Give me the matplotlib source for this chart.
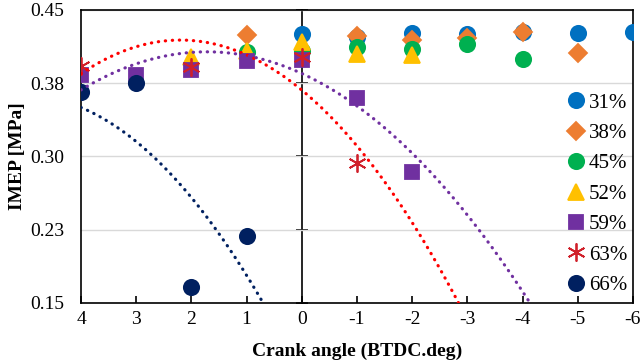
import numpy as np
import matplotlib
matplotlib.use("Agg")
import matplotlib.pyplot as plt

plt.rcParams['font.family'] = ['Liberation Serif', 'DejaVu Serif']

# crank angle (BTDC, deg) and IMEP [MPa] for each series
x_31 = [0, -1, -2, -3, -4, -5, -6]
y_31 = [0.425, 0.422, 0.426, 0.425, 0.427, 0.426, 0.4275]
x_38 = [1, -1, -2, -3, -4, -5]
y_38 = [0.424, 0.423, 0.419, 0.421, 0.427, 0.406]
x_45 = [1, 0, -1, -2, -3, -4]
y_45 = [0.407, 0.408, 0.412, 0.410, 0.415, 0.400]
x_52 = [2, 1, 0, -1, -2]
y_52 = [0.402, 0.408, 0.417, 0.405, 0.404]
x_59 = [4, 3, 2, 1, 0, -1, -2]
y_59 = [0.383, 0.383, 0.389, 0.398, 0.399, 0.360, 0.284]
x_63 = [4, 2, 0, -1]
y_63 = [0.393, 0.392, 0.402, 0.293]
x_66 = [4, 3, 2, 1]
y_66 = [0.366, 0.375, 0.166, 0.219]

# polynomial trendline coefficients (a*x^2 + b*x + c)
trend_63 = [-0.0106, 0.0466, 0.368]
trend_59 = [-0.0075, 0.0258, 0.385]
trend_66 = [-0.0112, 0.1133, 0.0762]

labels = ['31%', '38%', '45%', '52%', '59%', '63%', '66%']
yticks = [0.15, 0.225, 0.30, 0.375, 0.45]
ytick_labels = ['0.15', '0.23', '0.30', '0.38', '0.45']
xticks = [4, 3, 2, 1, 0, -1, -2, -3, -4, -5, -6]

fig = plt.figure(figsize=(6.44, 3.61), dpi=100)
ax = fig.add_axes([0.1258, 0.1607, 0.857, 0.8116])

series = [
    (x_31, y_31, 'o', '#0070C0', 11),
    (x_38, y_38, 'D', '#ED7D31', 9),
    (x_45, y_45, 'o', '#00B050', 11),
    (x_52, y_52, '^', '#FFC000', 11),
    (x_59, y_59, 's', '#7030A0', 10),
    (x_63, y_63, (6, 2, 0), '#D0202A', 13),
    (x_66, y_66, 'o', '#002060', 11),
]
for (xs, ys, m, c, ms), lab in zip(series, labels):
    ax.plot(xs, ys, ls='none', marker=m, color=c, mec=c, ms=ms, mew=1.3,
            label=lab, zorder=3)

# dotted trendlines
xx = np.linspace(4, -6, 300)
for p, c in [(trend_63, '#FF0000'), (trend_59, '#7030A0'), (trend_66, '#002060')]:
    ax.plot(xx, np.polyval(p, xx), color=c, lw=2.3, ls=(0, (0.1, 2.1)),
            dash_capstyle='round', zorder=4)

ax.set_xlim(4, -6)
ax.set_ylim(0.15, 0.45)
ax.set_xticks(xticks)
ax.set_xticklabels([str(v) for v in xticks])
ax.set_yticks(yticks)
ax.set_yticklabels(ytick_labels)
ax.tick_params(axis='y', length=0, labelsize=14, pad=12)
ax.tick_params(axis='x', direction='in', length=5, width=1.2, labelsize=14, pad=6)
ax.grid(axis='y', color='#D9D9D9', lw=1)
for s in ax.spines.values():
    s.set_linewidth(1.2)

# vertical axis crossing at 0
sec = ax.secondary_yaxis(0.4)
sec.set_yticks(yticks)
sec.tick_params(direction='inout', length=9, width=1.2, labelleft=False, labelright=False)
sec.spines['right'].set_linewidth(1.2)
sec.spines['left'].set_linewidth(1.2)

ax.set_xlabel('Crank angle (BTDC.deg)', fontsize=14, fontweight='bold', labelpad=10)
ax.set_ylabel('IMEP [MPa]', fontsize=14, fontweight='bold', labelpad=3)

ax.legend(loc='upper left', bbox_to_anchor=(0.86, 0.745), frameon=False, fontsize=15,
          handletextpad=0.0, labelspacing=0.52, handlelength=1.2, borderaxespad=0)

fig.savefig('out.png', dpi=100)
